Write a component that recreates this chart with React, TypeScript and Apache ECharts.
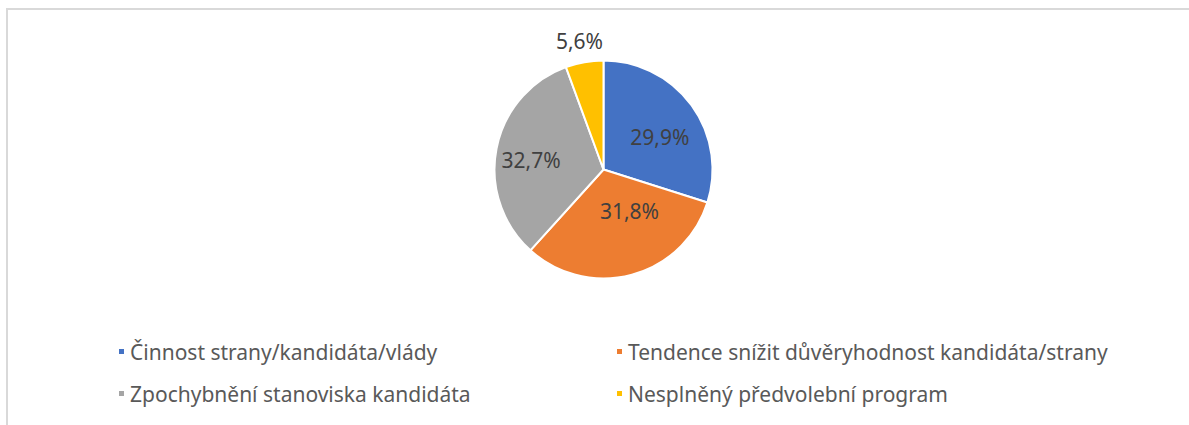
import React, { useEffect, useRef } from "react";
import * as echarts from "echarts";

const categories = [
  "Činnost strany/kandidáta/vlády",
  "Tendence snížit důvěryhodnost kandidáta/strany",
  "Zpochybnění stanoviska kandidáta",
  "Nesplněný předvolební program",
];
const values = [29.9, 31.8, 32.7, 5.6];
const colors = ["#4472C4", "#ED7D31", "#A5A5A5", "#FFC000"];
const labelOffsets = [
  [10, 1],
  [11, -14],
  [-16, 1],
  [-14, -72],
];

const FONT = "Noto Sans, Open Sans, sans-serif";

export default function App() {
  const ref = useRef<HTMLDivElement>(null);
  useEffect(() => {
    if (!ref.current) return;
    const chart = echarts.init(ref.current, undefined, { renderer: "svg" });
    const legendCommon = {
      orient: "vertical" as const,
      icon: "rect",
      itemWidth: 7,
      itemHeight: 7,
      itemGap: 21,
      textStyle: { color: "#595959", fontSize: 21, fontFamily: FONT },
      selectedMode: false,
    };
    chart.setOption({
      animation: false,
      color: colors,
      graphic: [
        {
          type: "rect",
          shape: { x: 7, y: 9, width: 1300, height: 600 },
          style: { fill: "none", stroke: "#D9D9D9", lineWidth: 2 },
          silent: true,
        },
      ],
      legend: [
        { ...legendCommon, left: 112, top: 336, data: [categories[0], categories[2]] },
        { ...legendCommon, left: 610, top: 336, data: [categories[1], categories[3]] },
      ],
      series: [
        {
          type: "pie",
          center: [603.5, 169.5],
          radius: 109,
          startAngle: 90,
          clockwise: true,
          itemStyle: { borderColor: "#fff", borderWidth: 2 },
          label: {
            position: "inside",
            color: "#404040",
            fontSize: 21,
            fontFamily: FONT,
            formatter: (p: any) => p.value.toFixed(1).replace(".", ",") + "%",
          },
          labelLine: { show: false },
          labelLayout: (p: any) => ({
            dx: labelOffsets[p.dataIndex][0],
            dy: labelOffsets[p.dataIndex][1],
          }),
          data: categories.map((name, i) => ({ name, value: values[i] })),
        },
      ],
    });
    return () => chart.dispose();
  }, []);
  return (
    <div
      ref={ref}
      style={{ position: "absolute", left: 0, top: 0, width: 1189, height: 425, background: "#fff" }}
    />
  );
}
